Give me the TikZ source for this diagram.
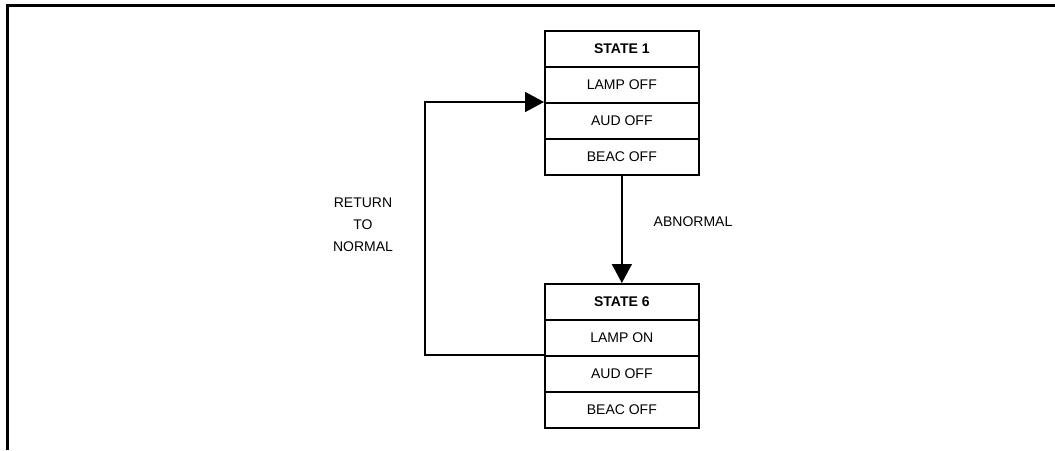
\documentclass[tikz,border=0pt]{standalone}
\usepackage{fontspec}
\setmainfont{Liberation Sans}
\usetikzlibrary{arrows.meta}
\begin{document}
\begin{tikzpicture}[x=1pt,y=-1pt,
  rowbox/.style={draw,line width=1.7pt,minimum width=154pt,minimum height=36pt,inner sep=0pt,font=\fontsize{14}{16}\selectfont,anchor=north west},
  headbox/.style={rowbox,font=\fontsize{14}{16}\selectfont\bfseries},
  conn/.style={line width=1.7pt},
  lbl/.style={font=\fontsize{14}{22}\selectfont,align=center,inner sep=0pt},
  tip/.style={-{Triangle[length=19pt,width=20pt]}}]
\useasboundingbox (0,0) rectangle (1055,450);
% frame
\draw[line width=3pt] (7.5,450) -- (7.5,5.5) -- (1056,5.5);
% state 1
\node[headbox] (s1h) at (544,30) {STATE 1};
\node[rowbox] (s1a) at (544,66) {LAMP OFF};
\node[rowbox] (s1b) at (544,102) {AUD OFF};
\node[rowbox] (s1c) at (544,138) {BEAC OFF};
% state 6
\node[headbox] (s6h) at (544,283) {STATE 6};
\node[rowbox] (s6a) at (544,319) {LAMP ON};
\node[rowbox] (s6b) at (544,355) {AUD OFF};
\node[rowbox] (s6c) at (544,391) {BEAC OFF};
% connectors
\draw[conn,tip] (s1c.south) -- (s6h.north);
\coordinate (rl) at (425,355);
\coordinate (ru) at (425,102);
\draw[conn,tip] (s6b.north west) -- (rl) -- (ru) -- (s1b.north west);
% labels
\node[lbl] (ab) at (693,222) {ABNORMAL};
\node[lbl] (rn) at (363,225) {RETURN\\TO\\NORMAL};
\end{tikzpicture}
\end{document}
